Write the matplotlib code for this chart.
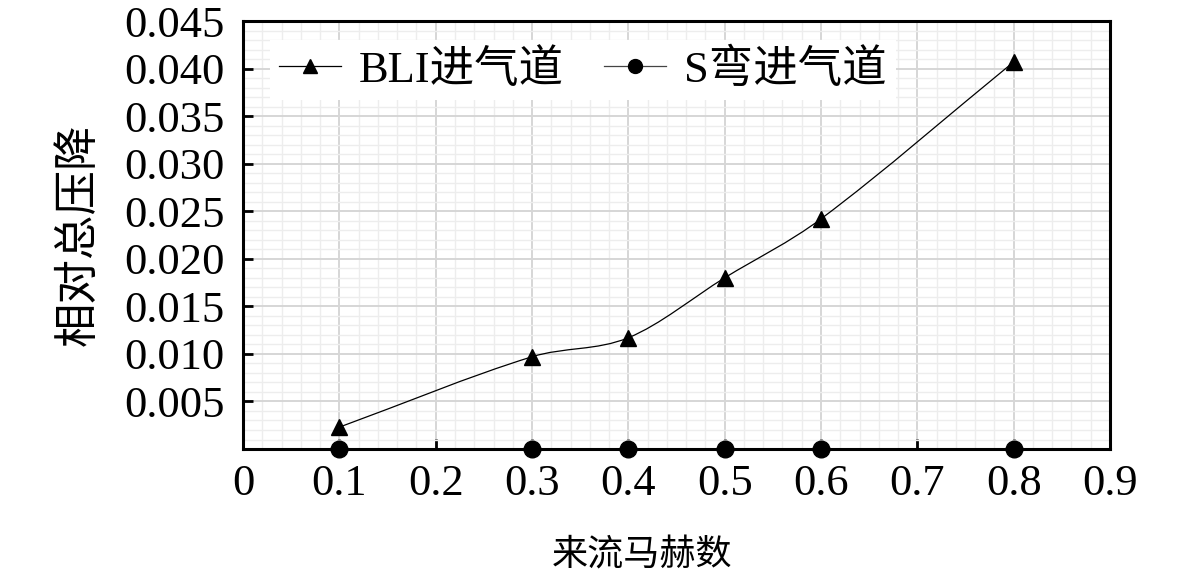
import matplotlib
matplotlib.use("Agg")
import matplotlib.pyplot as plt
from matplotlib.path import Path
from matplotlib.patches import PathPatch
from matplotlib.lines import Line2D
from matplotlib.ticker import MultipleLocator, FixedLocator
import numpy as np

plt.rcParams['font.family'] = ['Liberation Serif', 'Noto Sans CJK SC', 'DejaVu Sans']

mach = [0.1, 0.3, 0.4, 0.5, 0.6, 0.8]
bli_loss = [0.0023, 0.0097, 0.0117, 0.0180, 0.0242, 0.0407]
s_loss = [0.0, 0.0, 0.0, 0.0, 0.0, 0.0]
series_names = ['BLI进气道', 'S弯进气道']
xlabel = '来流马赫数'
ylabel = '相对总压降'
xticks = [0, 0.1, 0.2, 0.3, 0.4, 0.5, 0.6, 0.7, 0.8, 0.9]
xtick_labels = ['0', '0.1', '0.2', '0.3', '0.4', '0.5', '0.6', '0.7', '0.8', '0.9']
yticks = [0.005, 0.010, 0.015, 0.020, 0.025, 0.030, 0.035, 0.040, 0.045]
ytick_labels = ['0.005', '0.010', '0.015', '0.020', '0.025', '0.030', '0.035', '0.040', '0.045']


def smooth_path(x, y):
    x = np.asarray(x, float)
    y = np.asarray(y, float)
    n = len(x)
    m = np.zeros(n)
    for i in range(n):
        if i == 0:
            m[i] = (y[1] - y[0]) / (x[1] - x[0])
        elif i == n - 1:
            m[i] = (y[-1] - y[-2]) / (x[-1] - x[-2])
        else:
            m[i] = (y[i + 1] - y[i - 1]) / (x[i + 1] - x[i - 1])
    verts = [(x[0], y[0])]
    codes = [Path.MOVETO]
    for i in range(n - 1):
        dx = x[i + 1] - x[i]
        verts += [(x[i] + dx / 3, y[i] + m[i] * dx / 3),
                  (x[i + 1] - dx / 3, y[i + 1] - m[i + 1] * dx / 3),
                  (x[i + 1], y[i + 1])]
        codes += [Path.CURVE4] * 3
    return Path(verts, codes)


fig = plt.figure(figsize=(11.81, 5.82), dpi=100)
ax = fig.add_axes([0.2058, 0.2285, 0.7341, 0.7354])

ax.set_xlim(0, 0.9)
ax.set_ylim(0, 0.045)

ax.xaxis.set_major_locator(FixedLocator(xticks))
ax.set_xticklabels(xtick_labels)
ax.yaxis.set_major_locator(FixedLocator(yticks))
ax.set_yticklabels(ytick_labels)
ax.xaxis.set_minor_locator(MultipleLocator(0.02))
ax.yaxis.set_minor_locator(MultipleLocator(0.001))

ax.grid(which='major', color='#d6d6d6', linewidth=1.4, zorder=0)
ax.grid(which='minor', color='#ededed', linewidth=1.0, zorder=0)
ax.set_axisbelow(True)

ax.tick_params(axis='both', which='major', direction='in', length=7, width=2,
               labelsize=32)
ax.tick_params(axis='both', which='minor', length=0)
ax.tick_params(axis='x', pad=11)
ax.tick_params(axis='y', pad=13)
for s in ax.spines.values():
    s.set_linewidth(2.2)
    s.set_zorder(3)

# BLI smooth line
patch = PathPatch(smooth_path(mach, bli_loss), facecolor='none', edgecolor='black',
                  linewidth=0.9, zorder=4)
ax.add_patch(patch)
ax.plot(mach, bli_loss, linestyle='none', marker='^', color='black',
        markersize=12, zorder=5, clip_on=False)
ax.plot(mach, s_loss, linestyle='-', linewidth=0.9, marker='o', color='black',
        markersize=12, zorder=5, clip_on=False)

handles = [Line2D([], [], color='black', linewidth=0.9, marker='^', markersize=10),
           Line2D([], [], color='#444444', linewidth=0.9, marker='o', markersize=10,
                  markerfacecolor='black', markeredgecolor='black')]
leg = ax.legend(handles, series_names, loc='center', bbox_to_anchor=(0.392, 0.886),
                ncol=2, fontsize=32, frameon=True, facecolor='white', edgecolor='none',
                framealpha=1.0, fancybox=False, handlelength=1.4, handletextpad=0.4,
                columnspacing=0.9, borderpad=0.2, borderaxespad=0)
leg.set_zorder(6)

ax.set_xlabel(xlabel, fontsize=26)
ax.xaxis.set_label_coords(0.46, -0.212)
ax.set_ylabel(ylabel, fontsize=32)
ax.yaxis.set_label_coords(-0.165, 0.5)

fig.savefig('out.png', dpi=100)
